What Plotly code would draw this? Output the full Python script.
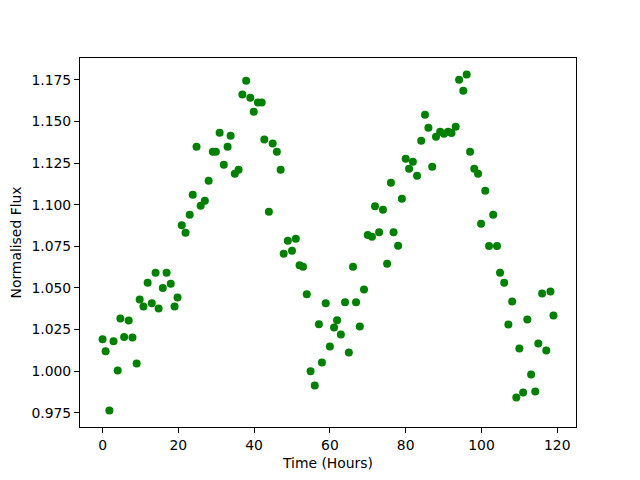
import plotly.graph_objects as go

time_hours = [0, 0.8, 1.8, 2.9, 4.0, 4.7, 5.7, 6.9, 7.9, 9.0, 9.8, 10.8, 11.9, 13.0, 14.0,
              14.8, 15.9, 16.9, 18.0, 19.0, 19.8, 20.9, 21.9, 23.0, 23.8, 24.8, 25.9, 27.0,
              28.0, 29.1, 29.9, 30.9, 32.0, 33.0, 33.8, 34.9, 35.9, 36.9, 37.9, 39.0, 39.9,
              41.0, 42.0, 42.7, 43.9, 44.9, 46.0, 47.0, 47.8, 48.9, 50.0, 51.0, 52.0, 52.9,
              53.9, 54.9, 56.0, 57.1, 57.9, 58.9, 60.0, 61.1, 61.9, 62.9, 64.0, 65.0, 66.1,
              66.9, 67.9, 69.0, 70.0, 71.1, 71.9, 73.0, 74.0, 75.1, 76.1, 76.8, 78.0, 79.0,
              80.0, 80.9, 81.9, 83.0, 84.1, 85.1, 86.0, 87.0, 88.0, 89.1, 90.1, 91.2, 92.1,
              93.2, 94.1, 95.2, 96.1, 97.0, 98.1, 99.1, 99.9, 101.0, 102.0, 103.1, 104.1,
              104.9, 106.0, 107.1, 108.1, 109.2, 110.0, 111.0, 112.1, 113.1, 114.2, 115.0,
              116.0, 117.1, 118.2, 119.0]

normalised_flux = [1.0192, 1.0120, 0.9764, 1.0180, 1.0004, 1.0316, 1.0206, 1.0304, 1.0202,
                   1.0046, 1.0430, 1.0388, 1.0532, 1.0408, 1.0592, 1.0376, 1.0500, 1.0592,
                   1.0526, 1.0388, 1.0442, 1.0876, 1.0832, 1.0940, 1.1060, 1.1348, 1.0994,
                   1.1024, 1.1144, 1.1318, 1.1318, 1.1432, 1.1240, 1.1348, 1.1414, 1.1186,
                   1.1210, 1.1662, 1.1744, 1.1642, 1.1558, 1.1614, 1.1614, 1.1392, 1.0958,
                   1.1368, 1.1318, 1.1210, 1.0706, 1.0784, 1.0724, 1.0796, 1.0636, 1.0628,
                   1.0462, 1.0000, 0.9914, 1.0282, 1.0052, 1.0408, 1.0148, 1.0262, 1.0306,
                   1.0220, 1.0414, 1.0112, 1.0628, 1.0414, 1.0268, 1.0490, 1.0818, 1.0808,
                   1.0990, 1.0834, 1.0970, 1.0646, 1.1132, 1.0834, 1.0754, 1.1036, 1.1276,
                   1.1216, 1.1258, 1.1174, 1.1384, 1.1540, 1.1462, 1.1228, 1.1408, 1.1438,
                   1.1426, 1.1438, 1.1430, 1.1468, 1.1750, 1.1684, 1.1782, 1.1318, 1.1216,
                   1.1186, 1.0886, 1.1084, 1.0752, 1.0940, 1.0752, 1.0592, 1.0532, 1.0280,
                   1.0418, 0.9842, 1.0136, 0.9872, 1.0310, 0.9980, 0.9878, 1.0166, 1.0466,
                   1.0124, 1.0478, 1.0334]

x_ticks = [0, 20, 40, 60, 80, 100, 120]
y_ticks = [0.975, 1.000, 1.025, 1.050, 1.075, 1.100, 1.125, 1.150, 1.175]

fig = go.Figure()
fig.add_trace(go.Scatter(
    x=time_hours, y=normalised_flux, mode="markers",
    marker=dict(color="#008000", size=8, line=dict(width=0)),
    showlegend=False,
))

font = dict(family="DejaVu Sans", size=13.9, color="black")
fig.update_layout(
    width=624, height=464,
    margin=dict(l=72, r=56, t=50, b=45, autoexpand=False),
    paper_bgcolor="white", plot_bgcolor="white",
    font=font,
)
axis_common = dict(
    showgrid=False, zeroline=False, showline=True, linecolor="black", linewidth=1,
    mirror=True, ticks="outside", ticklen=5, tickwidth=1, tickcolor="black",
    tickfont=font, automargin=False,
)
fig.update_xaxes(
    range=[-5.95, 124.95], tickvals=x_ticks, ticktext=[str(v) for v in x_ticks],
    title=dict(text="Time (Hours)", font=font, standoff=6), **axis_common,
)
fig.update_yaxes(
    range=[0.9665, 1.1881], tickvals=y_ticks, ticktext=[f"{v:.3f}" for v in y_ticks],
    title=dict(text="Normalised Flux", font=font, standoff=6), **axis_common,
)

fig.write_html("out.html")
